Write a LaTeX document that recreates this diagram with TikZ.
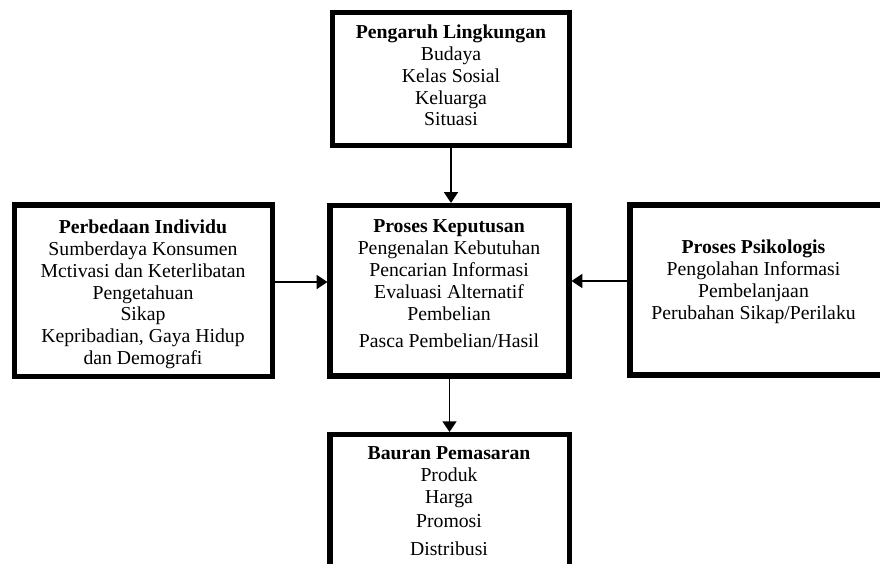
\documentclass[tikz,border=0pt]{standalone}
\usepackage{fontspec}
\setmainfont{Liberation Serif}
\usetikzlibrary{arrows.meta}
\begin{document}
\begin{tikzpicture}[x=0.75pt,y=-0.75pt,
  boxnode/.style={draw=black, line width=3.9pt, inner sep=0pt, fill=white},
  txt/.style={align=center, anchor=north, inner sep=0pt,
    font=\fontsize{14.8pt}{16.4pt}\selectfont},
  arr/.style={draw=black, line width=1.1pt, -{Triangle[width=10.5pt,length=8pt]}}]
\useasboundingbox (0,0) rectangle (880,563);
\clip (0,0) rectangle (880,563);
\fill[white] (0,0) rectangle (880,563);
% boxes
\node[boxnode, minimum width=177.75pt, minimum height=99.75pt] (top) at (451,79) {};
\node[boxnode, minimum width=193.5pt, minimum height=128.6pt] (left) at (143.5,290.75) {};
\node[boxnode, minimum width=179.25pt, minimum height=127.9pt] (mid) at (449.5,290.75) {};
\node[boxnode, minimum width=202.5pt, minimum height=127.5pt] (right) at (765,290) {};
\node[boxnode, minimum width=179.6pt, minimum height=154pt] (bot) at (449.75,537.25) {};
% texts
\node[txt] (toptxt) at (451,24.5) {\textbf{Pengaruh Lingkungan}\\Budaya\\Kelas Sosial\\Keluarga\\Situasi};
\node[txt] (lefttxt) at (143,219.5) {\textbf{Perbedaan Individu}\\Sumberdaya Konsumen\\Mctivasi dan Keterlibatan\\Pengetahuan\\Sikap\\Kepribadian, Gaya Hidup\\dan Demografi};
\node[txt] (midtxt) at (449,219.5) {\textbf{Proses Keputusan}\\Pengenalan Kebutuhan\\Pencarian Informasi\\Evaluasi Alternatif\\Pembelian\\[4pt]Pasca Pembelian/Hasil};
\node[txt] (righttxt) at (753.5,239.5) {\textbf{Proses Psikologis}\\Pengolahan Informasi\\Pembelanjaan\\Perubahan Sikap/Perilaku};
\node[txt] (bottxt) at (449,446.5) {\textbf{Bauran Pemasaran}\\Produk\\Harga\\[2pt]Promosi\\[4pt]Distribusi};
% connectors
\coordinate (ly) at (0,282);
\coordinate (ry) at (0,281);
\draw[arr] (top.south) -- (top.south |- mid.north);
\draw[arr] (mid.south) -- (mid.south |- bot.north);
\draw[arr] (left.east |- ly) -- (mid.west |- ly);
\draw[arr] (right.west |- ry) -- (mid.east |- ry);
\end{tikzpicture}
\end{document}
